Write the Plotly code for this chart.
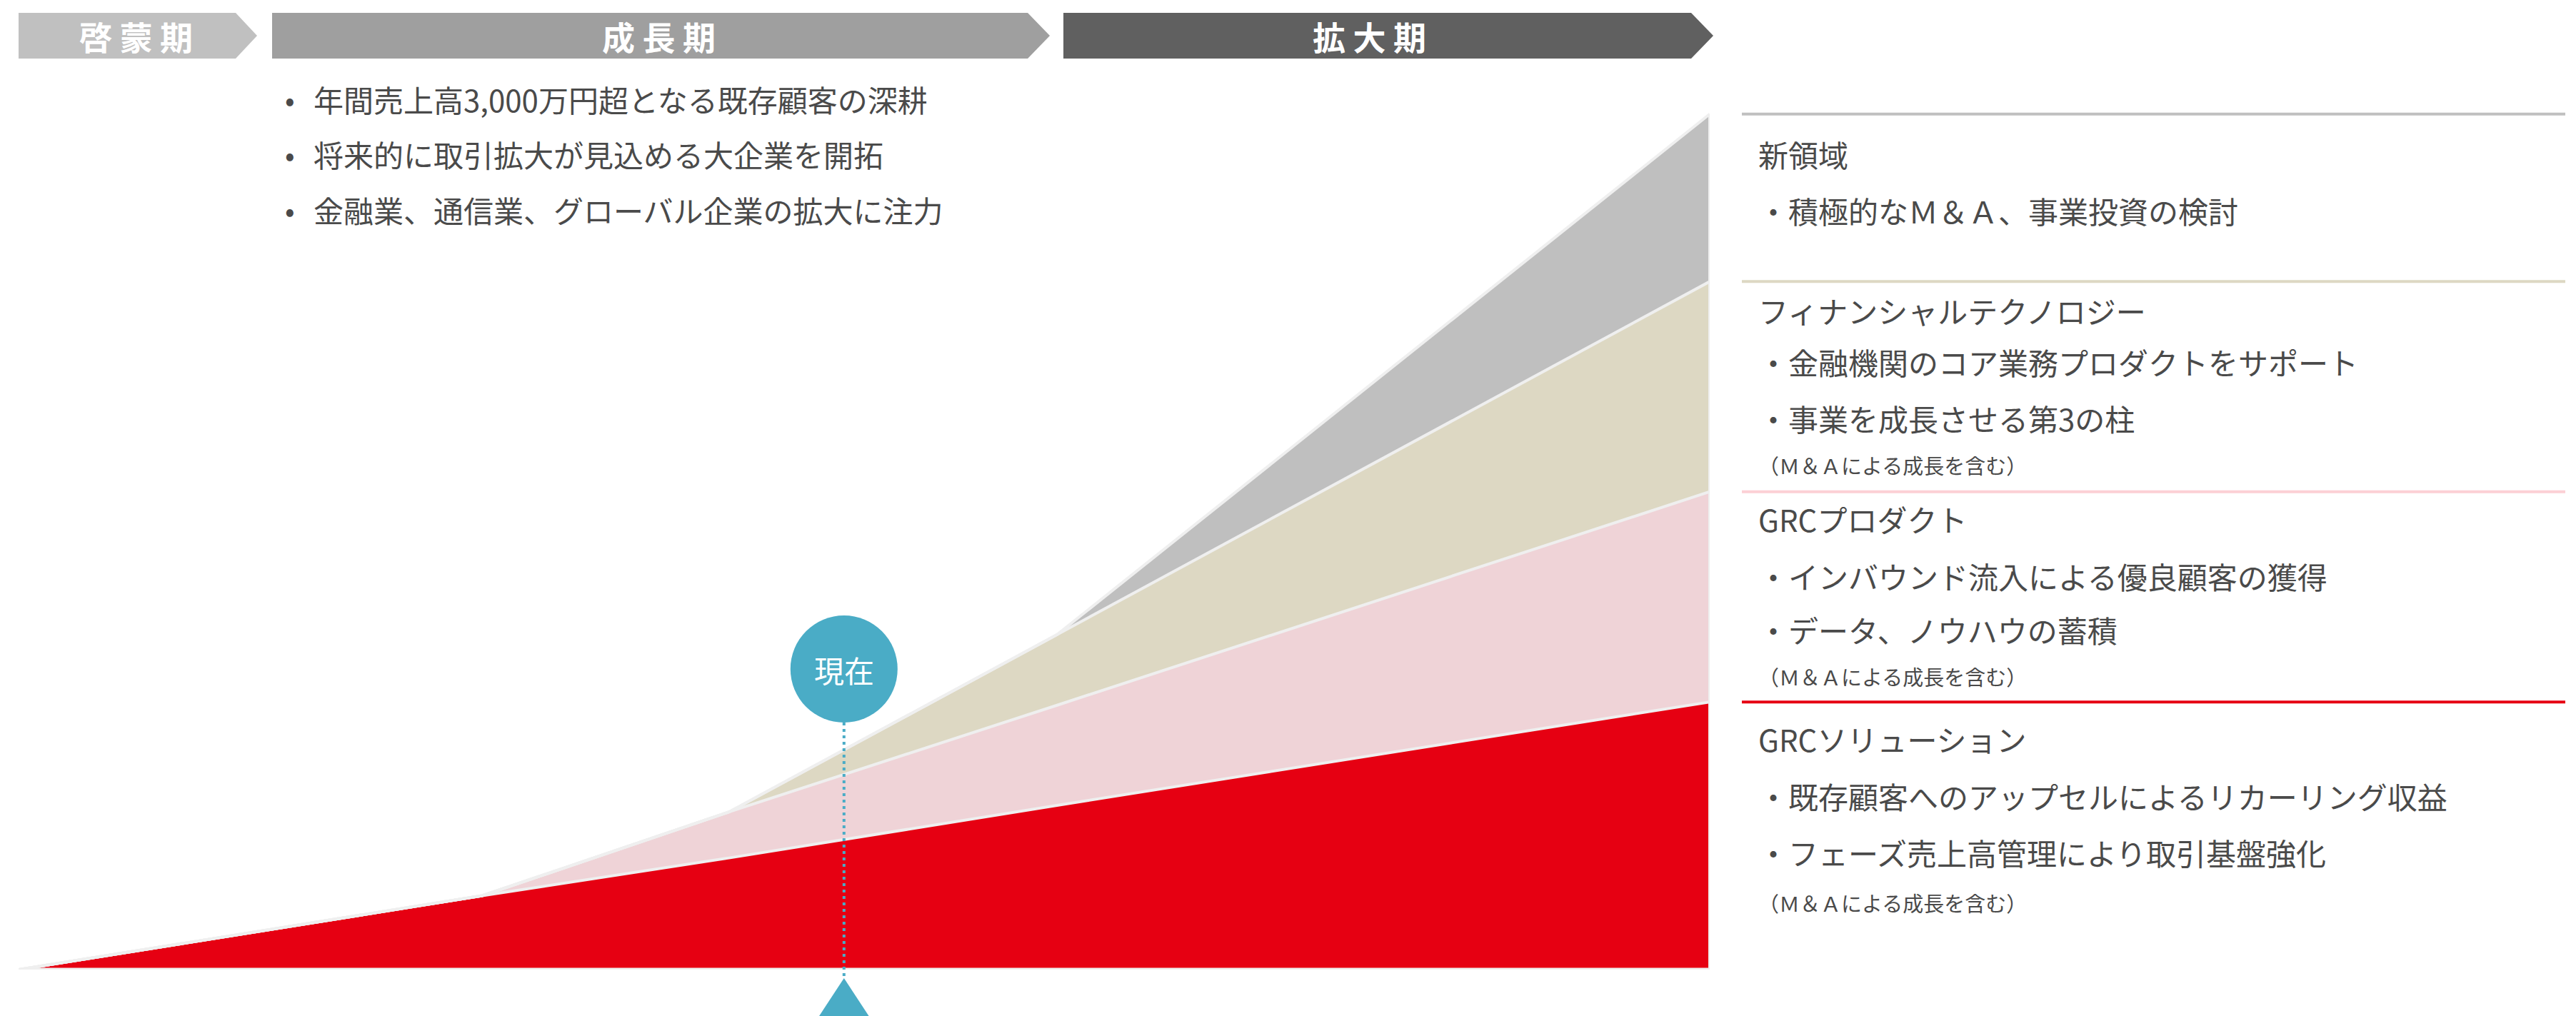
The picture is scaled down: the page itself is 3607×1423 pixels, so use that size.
import plotly.graph_objects as go

W, H = 3607, 1423
FONT = "Noto Sans CJK JP"

# ---------------- data ----------------
x_pos = [0, 27.4, 42.0, 61.4, 100]          # time axis (relative)
grc_solution = [0, 45, 68, 100, 163]         # GRCソリューション
grc_product = [0, 0, 28, 61, 128]            # GRCプロダクト
fintech = [0, 0, 0, 43, 128]                 # フィナンシャルテクノロジー
new_domain = [0, 0, 0, 0, 102]               # 新領域
series_names = ["GRCソリューション", "GRCプロダクト", "フィナンシャルテクノロジー", "新領域"]
now_x = 48.8
now_label = "現在"

phases = ["啓蒙期", "成長期", "拡大期"]
growth_points = [
    "年間売上高3,000万円超となる既存顧客の深耕",
    "将来的に取引拡大が見込める大企業を開拓",
    "金融業、通信業、グローバル企業の拡大に注力",
]
panel_new = ["・積極的なＭ＆Ａ、事業投資の検討"]
panel_fin = ["・金融機関のコア業務プロダクトをサポート", "・事業を成長させる第3の柱"]
panel_prod = ["・インバウンド流入による優良顧客の獲得", "・データ、ノウハウの蓄積"]
panel_sol = ["・既存顧客へのアップセルによるリカーリング収益", "・フェーズ売上高管理により取引基盤強化"]
note = "（Ｍ＆Ａによる成長を含む）"

# ---------------- styles ----------------
layer_colors = ["#e60012", "#efd3d7", "#ddd8c3", "#bfbfbf"]
sep_colors = ["#e60012", "#fcd0d5", "#ddd8c3", "#c0c0c0"]
stroke = "#efefef"
teal = "#4aacc6"
text_col = "#4a4a4a"
phase_colors = ["#c0c0c0", "#9f9f9f", "#606060"]
phase_px = [(18, 322, 352), (373, 1431, 1462), (1481, 2360, 2391)]
phase_text_px = [182, 914, 1910]

X0, X1 = 18.4, 2386
YB = 1350
YMAX = 587


def px(v):
    return v / W


def py(v):
    return 1 - v / H


fig = go.Figure()
layers = [grc_solution, grc_product, fintech, new_domain]
for name, vals, col in zip(series_names, layers, layer_colors):
    fig.add_trace(go.Scatter(
        x=x_pos, y=vals, name=name, mode="lines", stackgroup="one",
        line=dict(color=stroke, width=4), fillcolor=col, hoverinfo="skip",
    ))

shapes = []
cum = []
s = 0
for vals in layers:
    s += vals[-1]
    cum.append(s)
shapes.append(dict(type="line", xref="x", yref="y", x0=x_pos[0], x1=x_pos[-1], y0=0, y1=0,
                   line=dict(color=stroke, width=5), layer="above"))
shapes.append(dict(type="line", xref="x", yref="y", x0=x_pos[-1], x1=x_pos[-1], y0=0, y1=cum[-1],
                   line=dict(color=stroke, width=4), layer="above"))
for c, col in zip(cum, sep_colors):
    shapes.append(dict(type="line", xref="paper", yref="y", x0=px(2431), x1=px(3584), y0=c, y1=c,
                       line=dict(color=col, width=4)))
for (l, r, t), col in zip(phase_px, phase_colors):
    yt, yb, ym = py(10), py(74), py(42)
    path = f"M {px(l)},{yt} L {px(r)},{yt} L {px(t)},{ym} L {px(r)},{yb} L {px(l)},{yb} Z"
    shapes.append(dict(type="path", xref="paper", yref="paper", path=path,
                       fillcolor=col, line=dict(width=0)))
# now marker
shapes.append(dict(type="line", xref="x", yref="paper", x0=now_x, x1=now_x, y0=py(1004), y1=py(1362),
                   line=dict(color=teal, width=4, dash="4px,5px"), layer="above"))
shapes.append(dict(type="circle", xref="x", yref="paper", xsizemode="pixel", ysizemode="pixel",
                   xanchor=now_x, yanchor=py(929), x0=-75, x1=75, y0=-75, y1=75,
                   fillcolor=teal, line=dict(width=0), layer="above"))
shapes.append(dict(type="path", xref="x", yref="paper", xsizemode="pixel", xanchor=now_x,
                   path=f"M -40,0 L 0,{py(1362)} L 40,0 Z",
                   fillcolor=teal, line=dict(width=0), layer="above"))

ann = []
for name, cx in zip(phases, phase_text_px):
    ann.append(dict(x=px(cx), y=py(42), xref="paper", yref="paper", text=" ".join(name),
                    showarrow=False, xanchor="center", yanchor="middle",
                    font=dict(family=FONT, size=46, color="white", weight="bold")))
for i, t in enumerate(growth_points):
    yy = py([130, 207, 285][i])
    ann.append(dict(x=px(398), y=yy, xref="paper", yref="paper", text="•", showarrow=False,
                    xanchor="center", yanchor="middle", font=dict(family=FONT, size=40, color=text_col)))
    ann.append(dict(x=px(429), y=yy, xref="paper", yref="paper", text=t, showarrow=False,
                    xanchor="left", yanchor="middle", font=dict(family=FONT, size=42, color=text_col)))

panel_rows = [
    (series_names[3], 207, 42), (panel_new[0], 286, 42),
    (series_names[2], 426, 42), (panel_fin[0], 499, 42), (panel_fin[1], 577, 42), (note, 643, 29),
    (series_names[1], 718, 42), (panel_prod[0], 798, 42), (panel_prod[1], 874, 42), (note, 939, 29),
    (series_names[0], 1026, 42), (panel_sol[0], 1106, 42), (panel_sol[1], 1185, 42), (note, 1256, 29),
]
for t, yv, fs in panel_rows:
    ann.append(dict(x=px(2452), y=py(yv), xref="paper", yref="paper", text=t, showarrow=False,
                    xanchor="left", yanchor="middle", font=dict(family=FONT, size=fs, color=text_col)))

ann.append(dict(x=now_x, y=py(929), xref="x", yref="paper", text=now_label, showarrow=False,
                xanchor="center", yanchor="middle", font=dict(family=FONT, size=42, color="white")))

fig.update_layout(
    width=W, height=H, margin=dict(l=0, r=0, t=0, b=0),
    paper_bgcolor="white", plot_bgcolor="white", showlegend=False,
    xaxis=dict(domain=[px(X0), px(X1)], range=[0, 100], visible=False, fixedrange=True),
    yaxis=dict(domain=[py(YB), 1], range=[0, YMAX], visible=False, fixedrange=True),
    shapes=shapes, annotations=ann, font=dict(family=FONT),
)
fig.write_html("out.html")
